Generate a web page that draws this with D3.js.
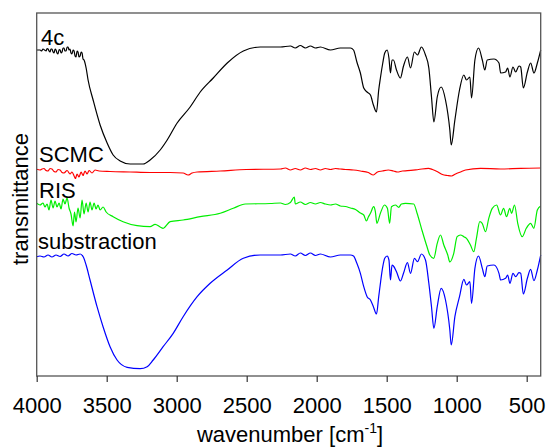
<!DOCTYPE html>
<html>
<head>
<meta charset="utf-8">
<script src="https://cdn.jsdelivr.net/npm/d3@7"></script>
<style>
  body { margin: 0; background: #fff; }
  text { font-family: Arial, "Liberation Sans", sans-serif; fill: #000; }
</style>
</head>
<body>
<svg id="chart" width="547" height="447"></svg>
<script>
// wavenumber ticks
const xTicks = [4000, 3500, 3000, 2500, 2000, 1500, 1000, 500];

// spectra as [wavenumber, transmittance (a.u., stacked)]
const spec4c = [
  [4000,326],[3976,326],[3965,325],[3955,327],[3944,326],[3933,325],[3926,327.5],[3919,327],[3912,325],[3905,324],[3898,327],[3891,327],[3883,324],[3876,323],[3869,327],[3862,326],
  [3855,323],[3848,322],[3840,326.5],[3833,326],[3826,323],[3819,324],[3812,328],[3805,328],[3798,325],[3790,325],[3783,329],[3776,329],[3769,326],[3762,327],[3755,323],[3748,322],[3740,326],[3733,325],
  [3726,320],[3719,319],[3712,325],[3705,324],[3698,319],[3690,320],[3683,324],[3676,323],[3669,317],[3662,316],[3647,308],[3633,296],[3597,276],[3547,251],
  [3497,233],[3454,221],[3404,215],[3333,212],[3240,212],[3190,216],[3118,226],[3068,236],[2997,253],
  [2904,269],[2832,284],[2739,298],[2639,313],[2524,325],[2403,329],[2259,329],[2188,330],[2153,328],
  [2117,330.5],[2081,328],[2045,330],[2009,328],[1974,329],[1902,326],[1831,328],[1759,328],[1737,326],
  [1713,314],[1688,303],[1664,288],[1640,284],[1616,281],[1595,271],[1573,264],[1557,286],[1545,298],
  [1528,313],[1514,323],[1497,326],[1484,318],[1473,303],[1462,316],[1452,316],[1430,306],[1402,298],
  [1380,310],[1352,319],[1330,308],[1302,324],[1280,321],[1252,329],[1223,321],[1199,308],[1180,279],
  [1163,254],[1139,279],[1111,289],[1080,276],[1049,246],[1039,231],[1013,256],[980,286],[949,301],
  [930,296],[906,299],[894,278],[870,316],[844,328],[817,316],[799,306],[782,316],[734,317],[698,313],
  [686,303],[651,304],[636,308],[620,299],[598,309],[579,304],[555,310],[543,309],[524,288],[495,304],
  [472,313],[448,303],[424,313],[400,326]
];

const specSCMC = [
  [4000,206.7],[3976,206],[3962,207],[3948,207.5],[3933,205.5],[3919,205],[3905,207.5],[3891,207],[3876,204.5],[3862,204],[3848,206.5],[3833,206],[3819,203.5],[3805,203],
  [3783,205.5],[3762,202],[3748,204],[3733,200],[3723,197.5],[3712,202],[3698,199],[3683,204],
  [3669,200.5],[3655,205],[3640,202],[3626,205.5],[3605,203],[3583,206],[3555,205],[3476,204.5],
  [3333,204],[3190,203.5],[3047,203.5],[2954,203],[2919,201],[2890,203],[2854,204],[2689,205],
  [2503,206.5],[2259,207],[2224,208],[2188,206],[2153,207.5],[2117,206],[2081,208],[2045,206.5],
  [2009,207.5],[1974,206],[1938,207.5],[1902,206.5],[1866,207.5],[1831,207],[1795,206.5],[1737,206],
  [1688,205],[1631,203.5],[1595,201],[1566,204],[1531,205],[1488,206],[1452,205],[1423,204],
  [1388,205],[1352,205.3],[1273,206.5],[1202,207.7],[1173,206.5],[1137,204.3],[1102,201.5],
  [1066,200.5],[1037,200],[1008,202],[973,204],[937,206],[830,207.7],[687,207],[543,207.7],[400,208]
];

const specRIS = [
  [4000,172.7],[3976,171],[3955,173],[3941,169],[3926,172],[3912,166],[3898,176],[3883,168],
  [3869,175],[3855,169],[3840,173],[3826,167],[3812,177],[3798,172],[3783,178],[3769,168],
  [3755,162],[3740,150],[3730,164],[3719,154],[3705,168],[3690,158],[3676,176],[3662,162],
  [3647,173],[3633,164],[3619,174],[3605,166],[3590,173],[3576,167],[3562,171],[3547,166],
  [3526,169],[3504,164],[3454,159.3],[3383,154.3],[3283,150.3],[3190,149.3],[3154,151.7],[3118,149],
  [3097,147.7],[3047,154.3],[2954,156],[2832,159.3],[2689,162.7],[2596,167.7],[2510,172],[2331,172.5],
  [2259,173],[2224,171.5],[2188,173.5],[2160,179],[2153,172],[2117,174],[2081,171.5],[2045,173.5],
  [2009,172],[1974,173.5],[1938,172],[1902,171],[1866,172],[1831,170],[1795,169.5],[1759,168],
  [1723,166.5],[1688,163],[1664,161],[1645,155],[1631,159],[1616,162.7],[1593,169.3],[1581,164.3],
  [1570,152.7],[1545,162.7],[1516,171],[1495,167.7],[1479,152.7],[1466,169.3],[1438,171],[1414,168.7],
  [1395,172],[1366,172.7],[1307,172],[1283,162.7],[1252,147.7],[1216,131],[1192,121],[1164,117.7],
  [1139,132.7],[1116,141],[1092,131],[1064,121],[1049,114],[1021,122.7],[997,139.3],[973,141],
  [949,139.3],[930,137.7],[902,131],[878,124.3],[859,137.7],[835,154.3],[818,152.7],[794,144.3],
  [771,157.7],[746,167.7],[715,171],[687,161],[665,167.7],[644,159.3],[621,167.7],[608,162.7],
  [587,171],[564,152.7],[532,139.3],[503,147.7],[472,152.7],[449,147.7],[424,166],[400,170]
];

const specSub = [
  [4000,119.3],[3976,120],[3948,119],[3919,121],[3891,119],[3862,121],[3833,119.5],[3805,122],
  [3776,120],[3748,122.5],[3719,121],[3690,122],[3667,119],[3647,111],[3619,96],[3569,69.3],
  [3526,49.3],[3476,29.3],[3426,16],[3354,8.7],[3261,7.3],[3211,9.3],[3168,16],[3097,29.3],
  [3025,42.7],[2954,59.3],[2854,79.3],[2761,92.7],[2639,106],[2524,117.7],[2403,121],[2259,121],
  [2188,122],[2153,120],[2117,123],[2081,120.5],[2045,123],[2009,120.5],[1974,122],[1902,119],
  [1831,121],[1759,121],[1737,120],[1713,112.7],[1688,102.7],[1664,89.3],[1640,79.3],[1616,76],
  [1595,69.3],[1573,62],[1557,79.3],[1545,92.7],[1528,109.3],[1514,117.7],[1497,120],[1484,116],
  [1473,96],[1462,111],[1452,110],[1430,104.3],[1402,95],[1380,102.7],[1352,113.3],[1330,102.7],
  [1302,117.7],[1280,114.3],[1252,122],[1223,116],[1199,92.7],[1180,69.3],[1163,47.7],[1139,69.3],
  [1111,87.7],[1080,76],[1049,46],[1039,31],[1013,59.3],[980,79.3],[949,96.7],[930,91],[906,94.3],
  [894,72.7],[870,107.7],[844,120],[817,107.7],[799,99.3],[782,110],[734,111],[698,102.7],[686,96],
  [651,97.7],[636,101],[620,92.7],[598,102.7],[579,99.3],[555,103.3],[543,102.7],[524,82],[495,97.7],
  [472,106.7],[448,95.3],[424,106],[400,121]
];

const seriesNames = ["4c", "SCMC", "RIS", "substraction"];
const seriesColors = ["#000000", "#ff0000", "#00ee00", "#0000ff"];
const seriesData = [spec4c, specSCMC, specRIS, specSub];

// chart box
const plotLeft = 36.7, plotRight = 540.7, plotTop = 13, plotBottom = 376;

const svg = d3.select("#chart");
const x = d3.scaleLinear().domain([4000, 400]).range([plotLeft, plotRight]);
const y = d3.scaleLinear().domain([0, 363]).range([plotBottom, plotTop]);

const line = d3.line()
  .curve(d3.curveMonotoneX)
  .x(d => x(d[0]))
  .y(d => y(d[1]));

// spectra
seriesData.forEach((data, i) => {
  svg.append("path")
    .datum(data)
    .attr("fill", "none")
    .attr("stroke", seriesColors[i])
    .attr("stroke-width", 1.2)
    .attr("stroke-linejoin", "round")
    .attr("d", line);
});

// frame
svg.append("rect")
  .attr("x", plotLeft).attr("y", plotTop)
  .attr("width", plotRight - plotLeft).attr("height", plotBottom - plotTop)
  .attr("fill", "none")
  .attr("stroke", "#555")
  .attr("stroke-width", 1.3);

// x axis
const xAxis = svg.append("g")
  .attr("transform", "translate(0," + plotBottom + ")")
  .call(d3.axisBottom(x).tickValues(xTicks).tickSize(6).tickPadding(15).tickFormat(d3.format("d")));
xAxis.select(".domain").remove();
xAxis.selectAll("line").attr("stroke", "#333").attr("stroke-width", 1.2);
xAxis.selectAll("text")
  .attr("font-size", 22)
  .attr("font-family", "Arial, 'Liberation Sans', sans-serif")
  .attr("fill", "#000");

// axis titles
const xt = svg.append("text")
  .attr("x", 290).attr("y", 442)
  .attr("text-anchor", "middle")
  .attr("font-size", 22);
xt.append("tspan").text("wavenumber [cm");
xt.append("tspan").attr("font-size", 14).attr("dy", -9).text("-1");
xt.append("tspan").attr("dy", 9).text("]");

svg.append("text")
  .attr("transform", "translate(28,199) rotate(-90)")
  .attr("text-anchor", "middle")
  .attr("font-size", 22)
  .text("transmittance");

// curve labels
const labelPos = [[41, 45], [39, 161.5], [39, 198], [38, 249]];
seriesNames.forEach((name, i) => {
  svg.append("text")
    .attr("x", labelPos[i][0])
    .attr("y", labelPos[i][1])
    .attr("font-size", 22)
    .text(name);
});
</script>
</body>
</html>
